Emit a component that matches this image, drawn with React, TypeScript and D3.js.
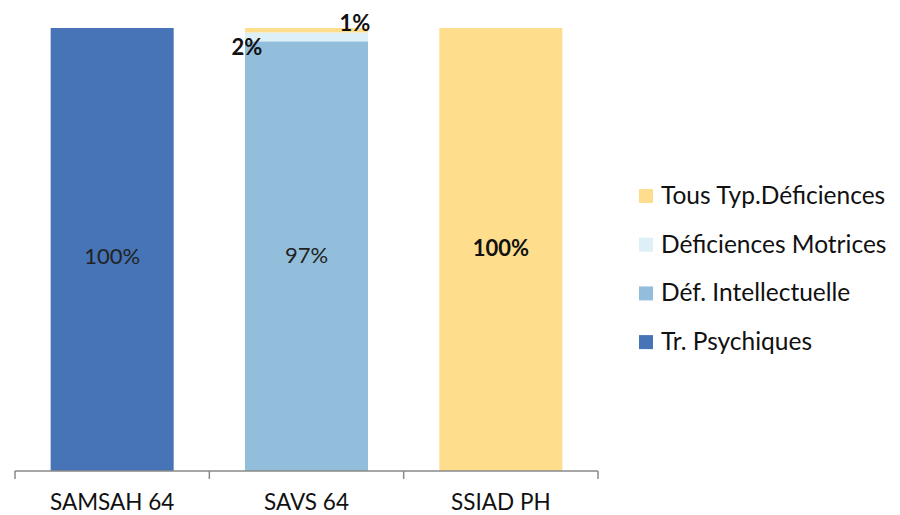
import React from 'react';
import * as d3 from 'd3';

const categories = ['SAMSAH 64', 'SAVS 64', 'SSIAD PH'];
const seriesNames = ['Tr. Psychiques', 'Déf. Intellectuelle', 'Déficiences Motrices', 'Tous Typ.Déficiences'];
const seriesColors = ['#4674B7', '#93BEDB', '#DDF0F8', '#FEDD8D'];
// values per series, one per category (percent)
const psychiques = [100, 0, 0];
const intellectuelle = [0, 97, 0];
const motrices = [0, 2, 0];
const tousTypes = [0, 1, 100];

const width = 900;
const height = 515;
const font = 'Lato, "Open Sans", sans-serif';

const App: React.FC = () => {
  const x = d3.scaleBand<string>()
    .domain(categories)
    .range([15, 598])
    .paddingInner(0.367)
    .paddingOuter(0.1835);
  const y = d3.scaleLinear().domain([0, 100]).range([471, 28]);

  const rows = categories.map((c, i) => ({
    cat: c,
    s0: psychiques[i],
    s1: intellectuelle[i],
    s2: motrices[i],
    s3: tousTypes[i],
  }));
  const stack = d3.stack<any>().keys(['s0', 's1', 's2', 's3'])(rows);

  // tick positions at band boundaries
  const step = x.step();
  const boundaries = d3.range(categories.length + 1).map(i => 15 + i * step);
  const cx = (c: string) => (x(c) as number) + x.bandwidth() / 2;
  const mid = (si: number, ci: number) => (y(stack[si][ci][0]) + y(stack[si][ci][1])) / 2;

  return (
    <svg width={width} height={height} style={{ position: 'absolute', left: 0, top: 0, fontFamily: font }}>
      <rect width={width} height={height} fill="#fff" />
      {stack.map((layer, si) => (
        <g key={si} fill={seriesColors[si]}>
          {layer.map((d, ci) => d[1] - d[0] > 0 ? (
            <rect key={ci} x={x(categories[ci])} y={y(d[1])} width={x.bandwidth()} height={y(d[0]) - y(d[1])} />
          ) : null)}
        </g>
      ))}
      {/* axis */}
      <line x1={boundaries[0]} x2={boundaries[boundaries.length - 1]} y1={y(0)} y2={y(0)} stroke="#898989" strokeWidth={1.5} />
      {boundaries.map((b, i) => (
        <line key={i} x1={b} x2={b} y1={y(0)} y2={y(0) + 8} stroke="#898989" strokeWidth={1.5} />
      ))}
      {categories.map(c => (
        <text key={c} x={cx(c)} y={510} textAnchor="middle" fontSize={22.5} fill="#111">{c}</text>
      ))}
      {/* data labels */}
      <text x={cx(categories[0])} y={mid(0, 0) + 14} textAnchor="middle" fontSize={22} fill="#222">{psychiques[0]}%</text>
      <text x={cx(categories[1])} y={mid(1, 1) + 7} textAnchor="middle" fontSize={22} fill="#222">{intellectuelle[1]}%</text>
      <text x={cx(categories[2])} y={mid(3, 2) + 6} textAnchor="middle" fontSize={22} fontWeight="bold" fill="#111">{tousTypes[2]}%</text>
      <text x={(x(categories[1]) as number) + 2} y={y(stack[2][1][1]) + 23} textAnchor="middle" fontSize={22} fontWeight="bold" fill="#111">{motrices[1]}%</text>
      <text x={(x(categories[1]) as number) + x.bandwidth() - 13} y={y(stack[3][1][1]) + 3} textAnchor="middle" fontSize={22} fontWeight="bold" fill="#111">{tousTypes[1]}%</text>
      {/* legend */}
      {seriesNames.slice().reverse().map((name, i) => {
        const si = seriesNames.length - 1 - i;
        const cy = 196 + i * 48.7;
        return (
          <g key={name}>
            <rect x={639} y={cy - 7} width={14} height={14} fill={seriesColors[si]} />
            <text x={661} y={cy + 8} fontSize={24.5} fill="#111">{name}</text>
          </g>
        );
      })}
    </svg>
  );
};

export default App;
